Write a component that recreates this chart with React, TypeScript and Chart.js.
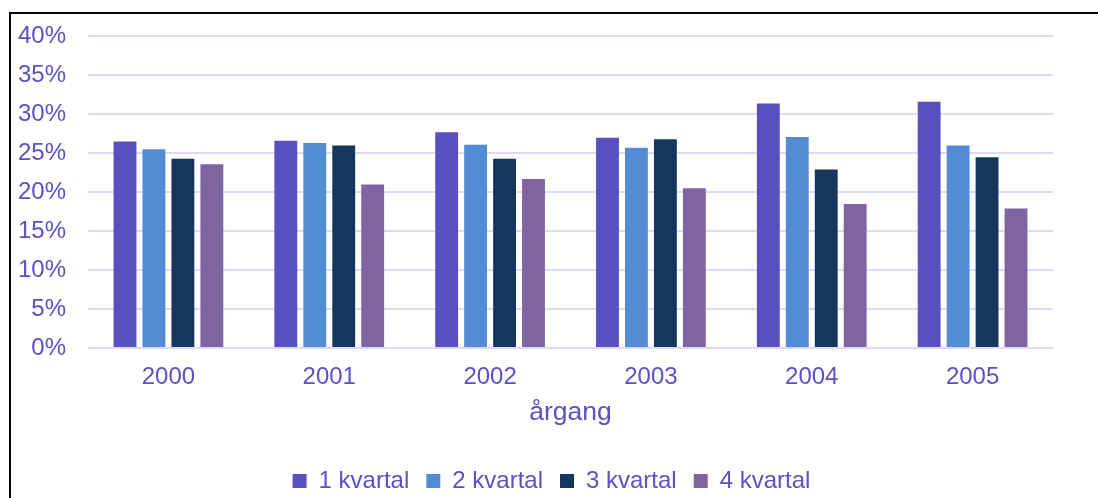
import React, { useEffect, useRef } from "react";
import { Chart, registerables } from "chart.js";

Chart.register(...registerables);

const years = ["2000", "2001", "2002", "2003", "2004", "2005"];
const seriesLabels = ["1 kvartal", "2 kvartal", "3 kvartal", "4 kvartal"];
const q1 = [26.5, 26.6, 27.7, 27.0, 31.4, 31.6];
const q2 = [25.5, 26.3, 26.1, 25.7, 27.1, 26.0];
const q3 = [24.3, 26.0, 24.3, 26.8, 22.9, 24.5];
const q4 = [23.6, 21.0, 21.7, 20.5, 18.5, 17.9];
const seriesColors = ["#5A4FBE", "#538CD5", "#17365D", "#8064A2"];
const xTitle = "årgang";
const yMax = 40;
const yStep = 5;

const TEXT = "#5B50C6";
const GRID = "#DEDAF5";
const FONT = "'Liberation Sans', Arial, sans-serif";

const legendShift = {
  id: "legendShift",
  afterLayout(chart: any) {
    const l = chart.legend;
    if (l) {
      l.left += 16;
      l.right += 16;
    }
  },
};

export default function App() {
  const ref = useRef<HTMLCanvasElement | null>(null);

  useEffect(() => {
    if (!ref.current) return;
    const values = [q1, q2, q3, q4];
    const chart = new Chart(ref.current, {
      type: "bar",
      data: {
        labels: years,
        datasets: seriesLabels.map((label, i) => ({
          label,
          data: values[i],
          backgroundColor: seriesColors[i],
          borderWidth: 0,
          categoryPercentage: 0.72,
          barPercentage: 0.79,
        })),
      },
      plugins: [legendShift],
      options: {
        responsive: false,
        animation: false,
        devicePixelRatio: 1,
        layout: { padding: { left: 18, right: 45, top: 26, bottom: -5 } },
        plugins: {
          tooltip: { enabled: false },
          legend: {
            position: "bottom",
            labels: {
              color: TEXT,
              font: { family: FONT, size: 24, lineHeight: 1 },
              boxWidth: 14,
              boxHeight: 14,
              padding: 17,
            },
          },
        },
        scales: {
          x: {
            afterFit: (scale: any) => {
              scale.height = 104;
            },
            grid: { display: false },
            border: { display: false },
            ticks: {
              color: TEXT,
              font: { family: FONT, size: 24 },
              padding: 7,
            },
            title: {
              display: true,
              text: xTitle,
              color: TEXT,
              font: { family: FONT, size: 26.5 },
              padding: { top: 0, bottom: 23 },
            },
          },
          y: {
            min: 0,
            max: yMax,
            afterFit: (scale: any) => {
              scale.width = 70;
            },
            grid: { color: GRID, lineWidth: 2, drawTicks: false },
            border: { display: false },
            ticks: {
              stepSize: yStep,
              color: TEXT,
              font: { family: FONT, size: 24 },
              padding: 22,
              callback: (v: any) => `${v}%`,
            },
          },
        },
      },
    });
    return () => chart.destroy();
  }, []);

  return (
    <div
      style={{
        position: "absolute",
        left: 0,
        top: 0,
        width: 1098,
        height: 498,
        overflow: "hidden",
        background: "#fff",
      }}
    >
      <canvas ref={ref} width={1098} height={498} style={{ position: "absolute", left: 0, top: 0 }} />
      <div
        style={{
          position: "absolute",
          left: 9,
          top: 12,
          width: 1200,
          height: 600,
          borderTop: "2px solid #000",
          borderLeft: "2px solid #000",
          pointerEvents: "none",
        }}
      />
    </div>
  );
}
